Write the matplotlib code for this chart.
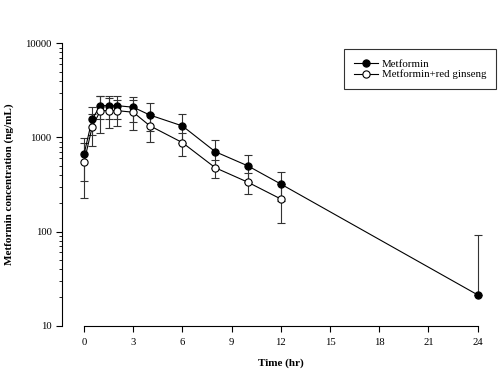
import numpy as np
import matplotlib
matplotlib.use('Agg')
import matplotlib.pyplot as plt

plt.rcParams['font.family'] = ['Liberation Serif', 'DejaVu Serif']

# Data (mean +/- SD)
times_met = [0, 0.5, 1, 1.5, 2, 3, 4, 6, 8, 10, 12, 24]
met_mean = [663, 1573, 2178, 2178, 2178, 2094, 1734, 1325, 706, 498, 320, 21.3]
met_sd = [317, 510, 600, 600, 600, 620, 574, 453, 234, 158, 110, 71]

times_gin = [0, 0.5, 1, 1.5, 2, 3, 4, 6, 8, 10, 12]
gin_mean = [545, 1303, 1927, 1927, 1927, 1853, 1335, 881, 477, 334, 222]
gin_sd = [318, 485, 818, 677, 597, 651, 446, 240, 103, 83, 100]

xticks = [0, 3, 6, 9, 12, 15, 18, 21, 24]
yticks = [10, 100, 1000, 10000]


def split_err(mean, sd):
    # lower bar dropped when it would go below zero on the log axis
    mean = np.array(mean, dtype=float)
    sd = np.array(sd, dtype=float)
    lower = np.where(mean - sd > 0, sd, 0)
    return [lower, sd]


fig = plt.figure(figsize=(5.03, 3.74), dpi=100)
ax = fig.add_axes([0.1233, 0.1291, 0.8509, 0.7551])

ax.errorbar(times_met, met_mean, yerr=split_err(met_mean, met_sd), fmt='none',
            ecolor='#333333', elinewidth=0.8, capsize=3, capthick=0.8, zorder=1)
ax.errorbar(times_gin, gin_mean, yerr=split_err(gin_mean, gin_sd), fmt='none',
            ecolor='#333333', elinewidth=0.8, capsize=3, capthick=0.8, zorder=1)

ax.plot(times_met, met_mean, '-o', color='black', lw=0.8, markersize=5.2,
        mfc='black', mec='black', mew=0.8, label='Metformin', zorder=3)
ax.plot(times_gin, gin_mean, '-o', color='black', lw=0.8, markersize=5.2,
        mfc='white', mec='black', mew=0.8, label='Metformin+red ginseng', zorder=4)

ax.set_yscale('log')
ax.set_ylim(10, 10000)
ax.set_xlim(-1.342, 24.76)
ax.set_xticks(xticks)
ax.set_xticklabels([str(t) for t in xticks])
ax.set_yticks(yticks)
ax.set_yticklabels([str(v) for v in yticks])

ax.spines['top'].set_visible(False)
ax.spines['right'].set_visible(False)
ax.spines['bottom'].set_bounds(0, 24)
ax.spines['left'].set_linewidth(0.8)
ax.spines['bottom'].set_linewidth(0.8)
ax.tick_params(axis='both', which='major', labelsize=7.7, length=4, width=0.8, direction='out')
ax.tick_params(axis='x', which='major', pad=5)
ax.tick_params(axis='y', which='minor', length=2, width=0.6, direction='out')

ax.set_xlabel('Time (hr)', fontsize=8, fontweight='bold')
ax.xaxis.set_label_coords(0.512, -0.115)
ax.set_ylabel('Metformin concentration (ng/mL)', fontsize=8, fontweight='bold')
ax.yaxis.set_label_coords(-0.112, 0.5)

leg = ax.legend(loc='upper left', bbox_to_anchor=(0.659, 0.979), fontsize=7.8,
                frameon=True, fancybox=False, edgecolor='black', handlelength=2.2,
                borderpad=0.9, labelspacing=0.1, handletextpad=0.4, borderaxespad=0)
leg.get_frame().set_linewidth(0.8)

plt.savefig('out.png', dpi=100)
